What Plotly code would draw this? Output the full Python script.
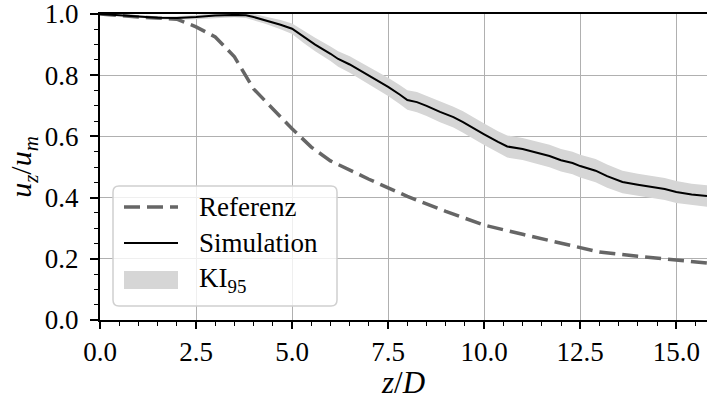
import plotly.graph_objects as go

# Reference decay curve
ref_x = [0.0, 1.0, 2.0, 2.5, 3.0, 3.5, 4.0, 4.5, 5.0, 5.5, 6.0, 7.0, 8.0, 9.0,
         10.0, 11.0, 12.0, 13.0, 14.0, 15.0, 15.8]
ref_y = [1.0, 0.99, 0.983, 0.958, 0.925, 0.86, 0.755, 0.69, 0.625, 0.565, 0.52,
         0.46, 0.404, 0.355, 0.31, 0.28, 0.252, 0.222, 0.208, 0.196, 0.186]

# Simulated centreline velocity with 95 % confidence interval
sim_x = [0.0, 0.5, 1.0, 1.5, 2.0, 2.5, 3.0, 3.5, 3.8, 4.0, 4.3, 4.7, 5.0, 5.3,
         5.6, 6.0, 6.2, 6.5, 6.85, 7.2, 7.5, 7.8, 8.0, 8.25, 8.5, 8.85, 9.2,
         9.45, 9.7, 10.0, 10.36, 10.6, 11.0, 11.3, 11.7, 12.0, 12.3, 12.5,
         12.9, 13.2, 13.6, 14.0, 14.4, 14.7, 15.0, 15.4, 15.8]
sim_y = [1.0, 0.997, 0.992, 0.988, 0.987, 0.99, 0.995, 0.997, 0.996, 0.99,
         0.98, 0.965, 0.952, 0.925, 0.9, 0.87, 0.853, 0.835, 0.81, 0.785,
         0.762, 0.737, 0.719, 0.712, 0.7, 0.68, 0.663, 0.647, 0.63, 0.607,
         0.582, 0.567, 0.559, 0.549, 0.536, 0.522, 0.513, 0.503, 0.488, 0.47,
         0.451, 0.442, 0.434, 0.428, 0.418, 0.41, 0.405]
ci_lower = [0.998, 0.994, 0.988, 0.983, 0.981, 0.983, 0.987, 0.989, 0.987,
            0.98, 0.968, 0.95, 0.935, 0.905, 0.878, 0.846, 0.828, 0.808, 0.782,
            0.756, 0.732, 0.706, 0.687, 0.679, 0.667, 0.646, 0.629, 0.612,
            0.595, 0.572, 0.547, 0.531, 0.523, 0.512, 0.499, 0.485, 0.476,
            0.466, 0.45, 0.432, 0.414, 0.406, 0.398, 0.392, 0.382, 0.375, 0.37]
ci_upper = [1.002, 1.0, 0.996, 0.993, 0.993, 0.997, 1.003, 1.005, 1.005, 1.0,
            0.992, 0.98, 0.969, 0.945, 0.922, 0.894, 0.878, 0.862, 0.838, 0.814,
            0.792, 0.768, 0.751, 0.745, 0.733, 0.714, 0.697, 0.682, 0.665,
            0.642, 0.617, 0.603, 0.595, 0.586, 0.573, 0.559, 0.55, 0.54, 0.526,
            0.508, 0.488, 0.478, 0.47, 0.464, 0.454, 0.445, 0.44]

legend_labels = ["Referenz", "Simulation", "KI<sub>95</sub>"]

FONT = "Liberation Serif, serif"
FS = 27
REF_COLOR = "#666666"
BAND_COLOR = "#d6d6d6"
REF_DASH = "16px,7px"

# plot-area geometry in pixels (for placing the legend box)
L, T, W, H = 100, 14, 607, 306


def px(x):
    return (x - L) / W


def py(y):
    return (T + H - y) / H


fig = go.Figure()

fig.add_trace(go.Scatter(x=sim_x, y=ci_upper, mode="lines", line=dict(width=0),
                         showlegend=False, hoverinfo="skip"))
fig.add_trace(go.Scatter(x=sim_x, y=ci_lower, mode="lines", line=dict(width=0),
                         fill="tonexty", fillcolor=BAND_COLOR, showlegend=False))
fig.add_trace(go.Scatter(x=ref_x, y=ref_y, mode="lines", showlegend=False,
                         line=dict(color=REF_COLOR, width=3.5, dash=REF_DASH)))
fig.add_trace(go.Scatter(x=sim_x, y=sim_y, mode="lines", showlegend=False,
                         line=dict(color="black", width=2)))

# legend frame with rounded corners
x0, x1, y0, y1, r = px(113), px(337), py(186), py(306), 6
rx, ry = r / W, r / H
frame = (f"M {x0+rx},{y0} L {x1-rx},{y0} Q {x1},{y0} {x1},{y0-ry} "
         f"L {x1},{y1+ry} Q {x1},{y1} {x1-rx},{y1} L {x0+rx},{y1} "
         f"Q {x0},{y1} {x0},{y1+ry} L {x0},{y0-ry} Q {x0},{y0} {x0+rx},{y0} Z")
shapes = [dict(type="path", path=frame, xref="paper", yref="paper",
               fillcolor="rgba(255,255,255,0.8)",
               line=dict(color="#d0d0d0", width=1.5), layer="above")]
rows = [207, 243, 280]
shapes.append(dict(type="line", xref="paper", yref="paper",
                   x0=px(124), x1=px(178), y0=py(rows[0]), y1=py(rows[0]),
                   line=dict(color=REF_COLOR, width=3.5, dash=REF_DASH),
                   layer="above"))
shapes.append(dict(type="line", xref="paper", yref="paper",
                   x0=px(124), x1=px(178), y0=py(rows[1]), y1=py(rows[1]),
                   line=dict(color="black", width=2), layer="above"))
shapes.append(dict(type="rect", xref="paper", yref="paper",
                   x0=px(124), x1=px(178), y0=py(rows[2] + 9), y1=py(rows[2] - 9),
                   fillcolor=BAND_COLOR, line=dict(width=0), layer="above"))
annotations = [dict(text=lab, xref="paper", yref="paper", x=px(197), y=py(yy),
                    xanchor="left", yanchor="middle", showarrow=False,
                    font=dict(family=FONT, size=FS, color="black"))
               for lab, yy in zip(legend_labels, rows)]

fig.update_layout(
    width=707, height=400,
    margin=dict(l=L, r=0, t=T, b=400 - T - H),
    paper_bgcolor="white", plot_bgcolor="white",
    font=dict(family=FONT, size=FS, color="black"),
    showlegend=False,
    shapes=shapes, annotations=annotations,
)

fig.update_xaxes(
    range=[0, 15.8], tickvals=[0, 2.5, 5, 7.5, 10, 12.5, 15],
    ticktext=["0.0", "2.5", "5.0", "7.5", "10.0", "12.5", "15.0"],
    tickfont=dict(size=FS), ticklabeloverflow="allow",
    showgrid=True, gridcolor="#b0b0b0", gridwidth=1,
    showline=True, linecolor="black", linewidth=2, mirror=True,
    ticks="outside", ticklen=7, tickwidth=1.5, tickcolor="black",
    minor=dict(dtick=0.5, tick0=0, ticks="outside", ticklen=4, tickwidth=1,
               tickcolor="black", showgrid=False),
    zeroline=False,
    title=dict(text="<i>z</i>/<i>D</i>", standoff=2, font=dict(size=31)),
)
fig.update_yaxes(
    range=[0, 1.0], tickvals=[0, 0.2, 0.4, 0.6, 0.8, 1.0],
    ticktext=["0.0", "0.2", "0.4", "0.6", "0.8", "1.0"],
    tickfont=dict(size=FS), ticklabelstandoff=6, ticklabeloverflow="allow",
    showgrid=True, gridcolor="#b0b0b0", gridwidth=1,
    showline=True, linecolor="black", linewidth=2,
    ticks="outside", ticklen=8, tickwidth=1.5, tickcolor="black",
    minor=dict(dtick=0.05, tick0=0, ticks="outside", ticklen=4.5, tickwidth=1,
               tickcolor="black", showgrid=False),
    zeroline=False,
    title=dict(text="<i>u</i><sub><i>z</i></sub>/<i>u</i><sub><i>m</i></sub>",
               standoff=4, font=dict(size=30)),
)

fig.write_html("out.html")
